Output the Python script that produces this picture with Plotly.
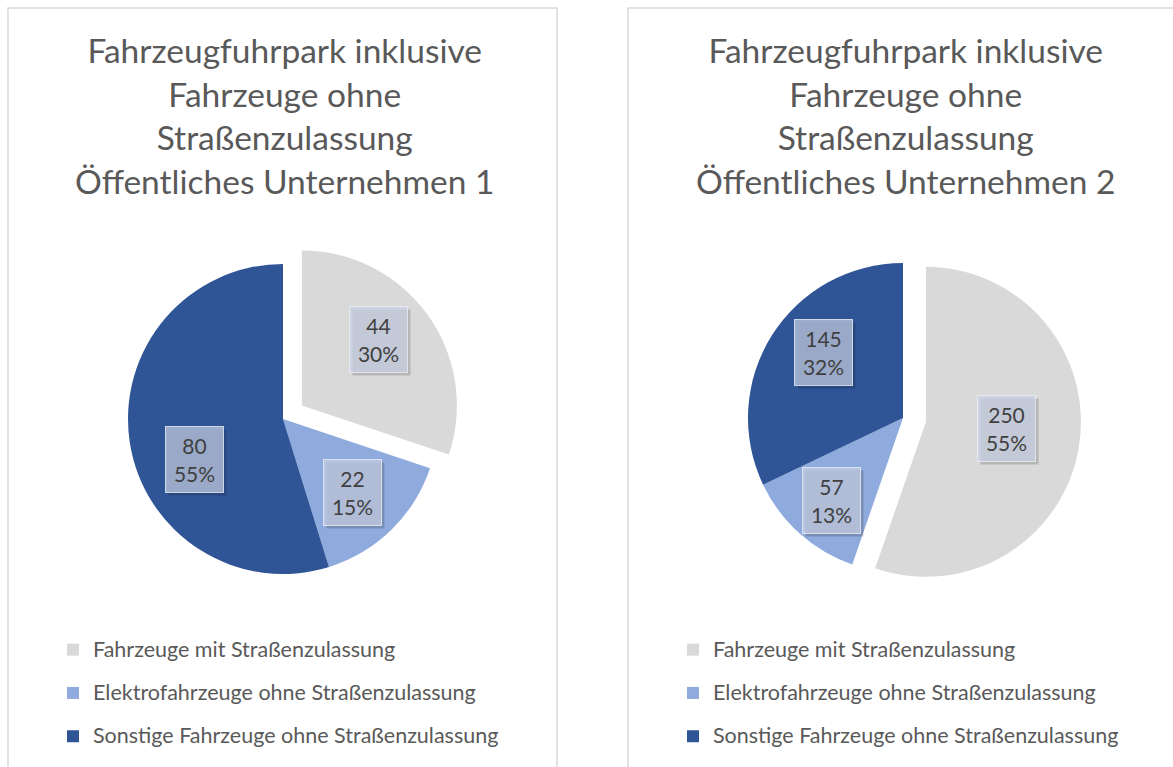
import math
import plotly.graph_objects as go

# ---------------- data ----------------
categories = [
    "Fahrzeuge mit Straßenzulassung",
    "Elektrofahrzeuge ohne Straßenzulassung",
    "Sonstige Fahrzeuge ohne Straßenzulassung",
]
values_unternehmen_1 = [44, 22, 80]
values_unternehmen_2 = [250, 57, 145]
titles = [
    "Fahrzeugfuhrpark inklusive<br>Fahrzeuge ohne<br>Straßenzulassung<br>Öffentliches Unternehmen 1",
    "Fahrzeugfuhrpark inklusive<br>Fahrzeuge ohne<br>Straßenzulassung<br>Öffentliches Unternehmen 2",
]

# ---------------- style / layout ----------------
W, H = 1173, 767
colors = ["#D9D9D9", "#8FAADC", "#2F5597"]
pulls = [0.15, 0, 0]
FONT = "Lato"
TEXT_COLOR = "#595959"
LABEL_COLOR = "#404040"
PIE_CENTERS = [(283, 419), (903, 418)]
PIE_R = 155
# label placement inside each slice: radial fraction and angular fraction of the slice span
LABEL_RADIUS = [[0.65, 0.65, 0.63], [0.52, 0.70, 0.665]]
LABEL_ANGLE_FRAC = [[0.455, 0.52, 0.42], [0.477, 0.48, 0.56]]
PANEL_X = [(8, 557), (628, 1190)]
PANEL_TOP = 8
TITLE_CENTERS_X = [284, 905]
LEGEND_X = [53, 673]
LEGEND_Y = 623
LABEL_FONT = 21
BOX_W, BOX_H = 53, 61

max_pull = max(pulls)
half_box = PIE_R * (1 + max_pull)

fig = go.Figure()
annotations = []
series = [values_unternehmen_1, values_unternehmen_2]
span_styles = ["font-size:21.5px;baseline-shift:5px", "font-size:21.5px; baseline-shift:5px"]

for i, vals in enumerate(series):
    cx, cy = PIE_CENTERS[i]
    dom_x = [(cx - half_box) / W, (cx + half_box) / W]
    dom_y = [1 - (cy + half_box) / H, 1 - (cy - half_box) / H]
    legend_name = "legend" if i == 0 else "legend2"
    fig.add_trace(go.Pie(
        labels=[f"<span style='{span_styles[i]}'>{c}</span>" for c in categories],
        values=vals,
        sort=False,
        direction="clockwise",
        rotation=0,
        pull=pulls,
        marker=dict(colors=colors, line=dict(width=0)),
        textinfo="none",
        domain=dict(x=dom_x, y=dom_y),
        legend=legend_name,
        hoverinfo="value+percent",
    ))

    # data labels (boxes) computed from the values
    total = sum(vals)
    cum = 0
    for j, v in enumerate(vals):
        start = cum / total * 360
        cum += v
        end = cum / total * 360
        mid = start + (end - start) * LABEL_ANGLE_FRAC[i][j]
        th = math.radians(mid)
        bis = math.radians((start + end) / 2)
        off = pulls[j] * PIE_R
        d = LABEL_RADIUS[i][j] * PIE_R
        px = cx + off * math.sin(bis) + d * math.sin(th)
        py = cy - off * math.cos(bis) - d * math.cos(th)
        pct = round(v / total * 100)
        common = dict(x=px / W, y=1 - py / H, xref="paper", yref="paper",
                      xanchor="center", yanchor="middle",
                      showarrow=False, width=BOX_W, height=BOX_H, align="center",
                      valign="middle", borderpad=2)
        # shadow
        annotations.append(dict(common, text=" ", bgcolor="rgba(0,0,0,0.16)",
                                borderwidth=1, bordercolor="rgba(0,0,0,0)",
                                xshift=3, yshift=-3))
        annotations.append(dict(common, text=f"{v}<br>{pct}%",
                                bgcolor="rgba(200,208,227,0.72)",
                                bordercolor="rgba(235,238,245,0.8)", borderwidth=1,
                                font=dict(family=FONT, size=LABEL_FONT, color=LABEL_COLOR)))

    annotations.append(dict(
        x=TITLE_CENTERS_X[i] / W, y=1 - 28 / H, xref="paper", yref="paper",
        xanchor="center", yanchor="top", showarrow=False, text=titles[i],
        align="center", font=dict(family=FONT, size=33.5, color=TEXT_COLOR),
    ))

shapes = []
for (x0, x1) in PANEL_X:
    shapes.append(dict(type="rect", xref="paper", yref="paper",
                       x0=x0 / W, x1=x1 / W, y0=-0.1, y1=1 - PANEL_TOP / H,
                       line=dict(color="#D9D9D9", width=1.5), fillcolor="rgba(0,0,0,0)",
                       layer="below"))

legend_common = dict(
    orientation="v", xanchor="left", yanchor="top",
    font=dict(family=FONT, size=31, color=TEXT_COLOR),
    bgcolor="rgba(0,0,0,0)", itemclick=False, itemdoubleclick=False,
    traceorder="normal",
)

fig.update_layout(
    width=W, height=H,
    margin=dict(l=0, r=0, t=0, b=0),
    paper_bgcolor="white",
    plot_bgcolor="white",
    showlegend=True,
    legend=dict(legend_common, x=LEGEND_X[0] / W, y=1 - LEGEND_Y / H),
    legend2=dict(legend_common, x=LEGEND_X[1] / W, y=1 - LEGEND_Y / H),
    annotations=annotations,
    shapes=shapes,
    font=dict(family=FONT, color=TEXT_COLOR),
)

fig.write_html("out.html", config={"displayModeBar": False},
               post_script="document.body.style.margin='0';")
